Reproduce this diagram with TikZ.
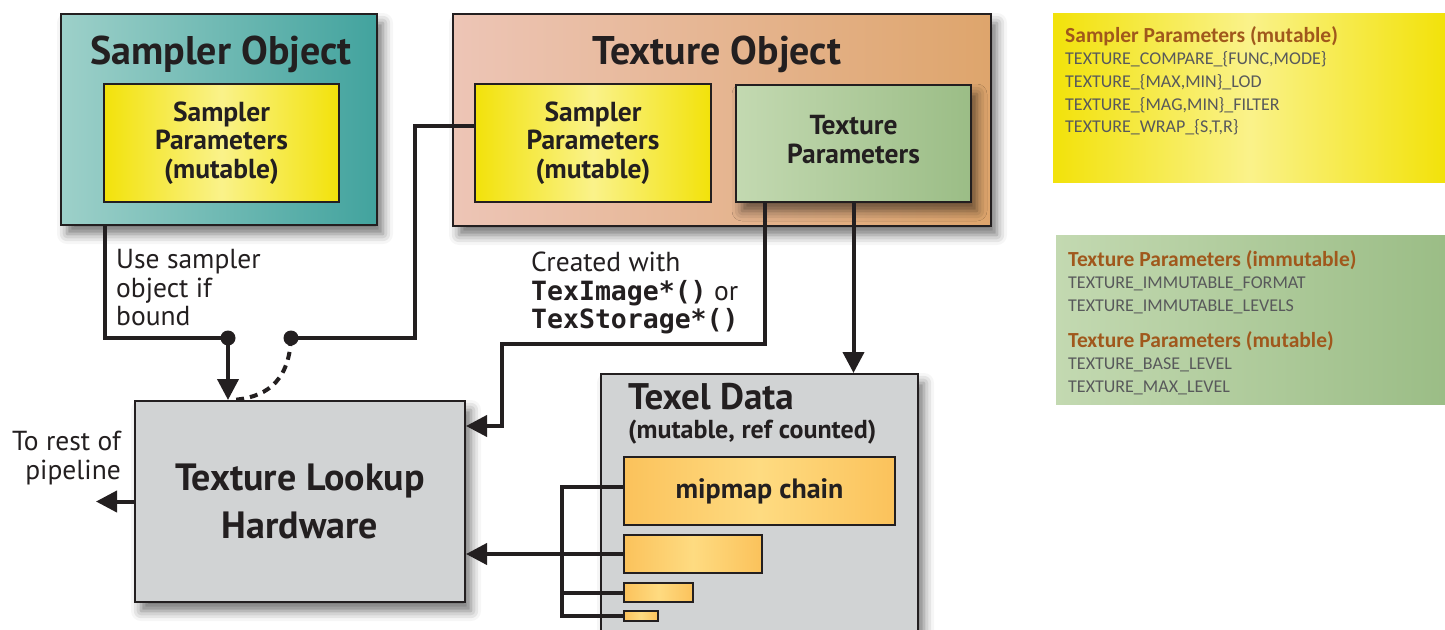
\documentclass[tikz,border=0pt]{standalone}
\usepackage{fontspec}
\setmainfont{PT Sans}
\setmonofont{DejaVu Sans Mono}
\newfontfamily\panelfont{Carlito}
\usetikzlibrary{arrows.meta,shadows.blur}
\definecolor{ink}{HTML}{231F20}
\definecolor{teallt}{HTML}{9DD0C9}
\definecolor{tealdk}{HTML}{42A39E}
\definecolor{yel}{HTML}{F2E20A}
\definecolor{yellt}{HTML}{FAF28A}
\definecolor{peach}{HTML}{EDC5B6}
\definecolor{tan}{HTML}{DEA56C}
\definecolor{sage}{HTML}{C3D9B1}
\definecolor{sagedk}{HTML}{9BBD86}
\definecolor{hwgray}{HTML}{D1D3D4}
\definecolor{mip}{HTML}{FBC25B}
\definecolor{miplt}{HTML}{FEDB81}
\definecolor{brown}{HTML}{A0581C}
\definecolor{gtext}{HTML}{58595B}
\newcommand\ptitle{\bfseries\fontsize{21.5}{22.7}\selectfont\color{brown}}
\newcommand\codefont{\ttfamily\bfseries\fontsize{26.5}{28.5}\selectfont}
\begin{document}
\begin{tikzpicture}[x=1pt,y=-1pt,>={Triangle[length=21pt,width=21pt]},
  box/.style={draw=ink,line width=2pt,rectangle,inner sep=0pt,anchor=north west,text=ink},
  shade/.style={blur shadow={shadow xshift=6pt,shadow yshift=-9pt,shadow blur radius=10pt,shadow opacity=55}},
  wire/.style={draw=ink,line width=4pt},
  big/.style={font=\bfseries\fontsize{40}{42}\selectfont,text=ink},
  mid/.style={font=\bfseries\fontsize{27.5}{28.5}\selectfont,align=center},
  note/.style={font=\fontsize{27.5}{28.5}\selectfont,text=ink},
  panel/.style={rectangle,inner sep=0pt,anchor=north west},
  ptext/.style={font=\panelfont\fontsize{18}{22.7}\selectfont,text=gtext,align=left,anchor=north west,inner sep=0pt}]
\useasboundingbox (0,0) rectangle (1445,629);
% objects
\node[box,shade,minimum width=316pt,minimum height=211pt,left color=teallt,right color=tealdk] (so) at (60,13) {};
\node[big] (sotitle) at (221,54) {Sampler Object};
\node[box,mid,minimum width=235pt,minimum height=118pt,left color=yel,right color=yel,middle color=yellt] (sp1) at (103,83) {Sampler\\Parameters\\(mutable)};
\node[box,shade,minimum width=538pt,minimum height=212pt,left color=peach,right color=tan] (to) at (452,13) {};
\node[big] (totitle) at (717,54) {Texture Object};
\node[box,mid,minimum width=236pt,minimum height=118pt,left color=yel,right color=yel,middle color=yellt] (sp2) at (474,83) {Sampler\\Parameters\\(mutable)};
\node[box,mid,shade,minimum width=235pt,minimum height=117pt,left color=sage,right color=sagedk] (tp) at (735,84) {Texture\\Parameters\\[-20pt]};
\node[box,shade,fill=hwgray,font=\bfseries\fontsize{38}{48}\selectfont,align=center,minimum width=330pt,minimum height=201pt] (lk) at (134,400) {Texture Lookup\\Hardware};
\node[box,shade,fill=hwgray,minimum width=317pt,minimum height=290pt] (td) at (600,373) {};
\node[anchor=west,inner sep=0pt,font=\bfseries\fontsize{37}{38}\selectfont,text=ink] (tdtitle) at (628,397) {Texel Data};
\node[anchor=west,inner sep=0pt,font=\bfseries\fontsize{26}{28}\selectfont,text=ink] (tdsub) at (628,432) {(mutable, ref counted)};
% mipmap levels
\node[box,minimum width=271pt,minimum height=68pt,left color=mip,right color=mip,middle color=miplt,font=\bfseries\fontsize{28}{30}\selectfont] (b1) at (623,456) {mipmap chain};
\node[box,minimum width=138pt,minimum height=38pt,left color=mip,right color=mip,middle color=miplt] (b2) at (623,534) {};
\node[box,minimum width=69pt,minimum height=19pt,left color=mip,right color=mip,middle color=miplt] (b3) at (623,582) {};
\node[box,minimum width=34pt,minimum height=10pt,left color=mip,right color=mip,middle color=miplt] (b4) at (623,610) {};
% labels
\node[note,anchor=west,align=left,inner sep=0pt] (uselbl) at (116,288) {Use sampler\\object if\\bound};
\node[note,anchor=west,align=left,inner sep=0pt] (crlbl) at (531,293) {Created with\\{\codefont TexImage*()} or\\{\codefont TexStorage*()}};
\node[note,anchor=east,align=right,inner sep=0pt] (outlbl) at (121,458) {To rest of\\pipeline};
% connectors
\coordinate (j1) at (228,338);
\coordinate (j2) at (291,338);
\coordinate (k1) at (415,338);
\coordinate (k2) at (502,344);
\coordinate (bus) at (562,0);
\coordinate (out) at (96,0);
\draw[wire] ([xshift=45pt]so.south west) |- (j1);
\draw[wire,->] (j1) -- (lk.north -| j1);
\draw[wire] ([yshift=17pt]sp2.west) -| (k1) -- (j2);
\draw[wire,dash pattern=on 8pt off 6pt] (j2) .. controls (289,385) and (262,398) .. ([xshift=4pt]lk.north -| j1);
\fill[ink] (j1) circle (7.5) (j2) circle (7.5);
\draw[wire,->] ([xshift=30pt]tp.south west) |- (k2) |- ([yshift=75.5pt]lk.east);
\draw[wire,->] (tp.south) -- (tp.south |- td.north);
\draw[wire] ([yshift=4pt]b1.west) -| (b4.west -| bus) -- (b4.west);
\draw[wire] (b3.west) -- (b3.west -| bus);
\draw[wire,->] (b2.west) -- (b2.west -| lk.east);
\draw[wire,->] (lk.west) -- (lk.west -| out);
% parameter panels
\node[panel,minimum width=392pt,minimum height=169pt,left color=yel,right color=yel,middle color=yellt] (sppanel) at (1053,13) {};
\node[ptext] (sptext) at (1065,26) {{\ptitle Sampler Parameters (mutable)}\\TEXTURE\_COMPARE\_\{FUNC,MODE\}\\TEXTURE\_\{MAX,MIN\}\_LOD\\TEXTURE\_\{MAG,MIN\}\_FILTER\\TEXTURE\_WRAP\_\{S,T,R\}};
\node[panel,minimum width=389pt,minimum height=169pt,left color=sage,right color=sagedk] (tppanel) at (1056,235) {};
\node[ptext] (tptext) at (1068,250) {{\ptitle Texture Parameters (immutable)}\\TEXTURE\_IMMUTABLE\_FORMAT\\TEXTURE\_IMMUTABLE\_LEVELS\\[13pt]{\ptitle Texture Parameters (mutable)}\\TEXTURE\_BASE\_LEVEL\\TEXTURE\_MAX\_LEVEL};
\end{tikzpicture}
\end{document}
